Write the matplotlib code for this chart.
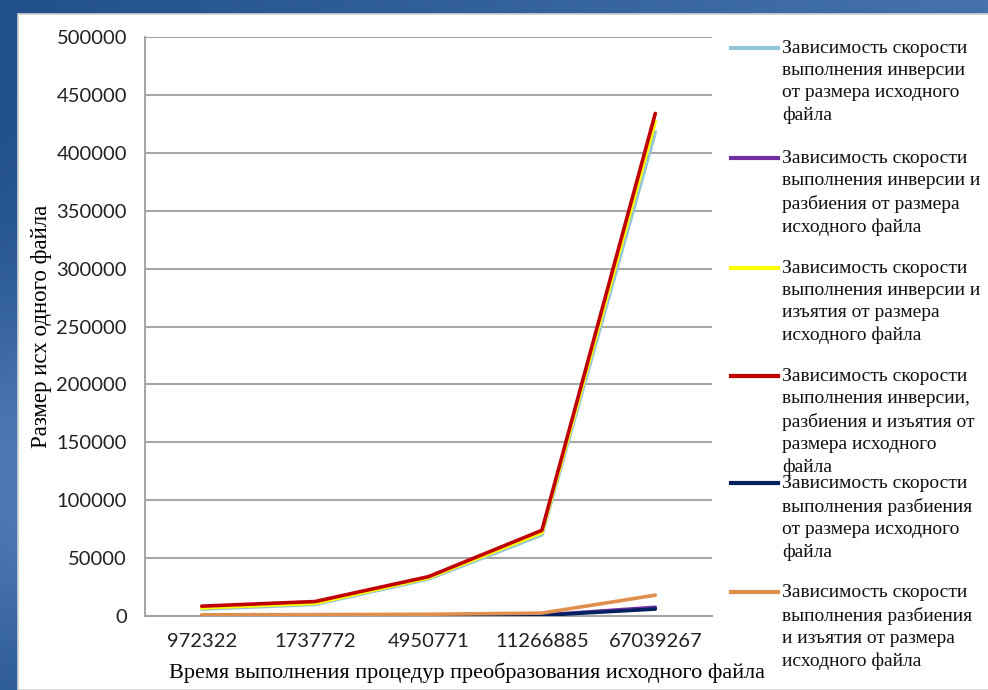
import numpy as np
import matplotlib
matplotlib.use("Agg")
import matplotlib.pyplot as plt
from matplotlib.colors import LinearSegmentedColormap
from matplotlib.patches import Rectangle
from matplotlib.lines import Line2D

categories = ["972322", "1737772", "4950771", "11266885", "67039267"]

inversion = [6000, 10000, 32000, 70000, 418000]
inversion_split = [300, 400, 500, 800, 7500]
inversion_extract = [7000, 11000, 33000, 72000, 427000]
inversion_split_extract = [8500, 12500, 34000, 74000, 434000]
split = [200, 300, 400, 600, 6000]
split_extract = [1000, 1200, 1500, 2500, 18000]

series = [inversion, inversion_split, inversion_extract,
          inversion_split_extract, split, split_extract]
colors = ["#92c5d6", "#7030a0", "#ffff00", "#c00000", "#002060", "#e0904e"]
labels = [
    "Зависимость скорости\nвыполнения инверсии\nот размера исходного\nфайла",
    "Зависимость скорости\nвыполнения инверсии и\nразбиения от размера\nисходного файла",
    "Зависимость скорости\nвыполнения инверсии и\nизъятия от размера\nисходного файла",
    "Зависимость скорости\nвыполнения инверсии,\nразбиения и изъятия от\nразмера исходного\nфайла",
    "Зависимость скорости\nвыполнения разбиения\nот размера исходного\nфайла",
    "Зависимость скорости\nвыполнения разбиения\nи изъятия от размера\nисходного файла",
]

W, H = 988, 690
fig = plt.figure(figsize=(W / 100, H / 100), dpi=100)

# blue screenshot background
bg = fig.add_axes([0, 0, 1, 1], zorder=-10)
yy, xx = np.mgrid[0:1:200j, 0:1:200j]
grad = 0.6 * np.exp(-((yy - 0.7) ** 2) / 0.08) + 0.5 * xx
cmap = LinearSegmentedColormap.from_list("bl", ["#22508c", "#6f9bd0"])
bg.imshow(grad, cmap=cmap, aspect="auto", extent=[0, 1, 0, 1])
bg.set_axis_off()

# white chart panel
fig.patches.append(Rectangle((18 / W, 0), 1, 1 - 14 / H, transform=fig.transFigure,
                             facecolor="white", edgecolor="#d0d0d0", lw=1.2, zorder=-5))

ax = fig.add_axes([145 / W, 1 - 616 / H, (712 - 145) / W, (616 - 37) / H])
x = np.arange(len(categories))
for s, c in zip(series, colors):
    ax.plot(x, s, color=c, lw=2.6, solid_capstyle="round", zorder=3)

ax.set_xlim(-0.5, len(categories) - 0.5)
ax.set_ylim(0, 500000)
ax.set_yticks(np.arange(0, 500001, 50000))
ax.set_xticks(x)
ax.set_xticklabels(categories)
ax.grid(axis="y", color="#a6a6a6", lw=1.5)
ax.set_axisbelow(True)
for sp in ["top", "right"]:
    ax.spines[sp].set_visible(False)
ax.spines["left"].set_color("#a6a6a6")
ax.spines["left"].set_linewidth(1.5)
ax.spines["bottom"].set_color("#a6a6a6")
ax.spines["bottom"].set_linewidth(1.5)
ax.tick_params(length=0, labelsize=14.5, colors="#222222")
ax.tick_params(axis="x", pad=12)
ax.tick_params(axis="y", pad=13)
for t in ax.get_xticklabels() + ax.get_yticklabels():
    t.set_fontfamily("Lato")

fig.text(467 / W, 1 - 673 / H, "Время выполнения процедур преобразования исходного файла",
         ha="center", va="center", fontsize=16, family="Liberation Serif")
fig.text(42 / W, 1 - 326 / H, "Размер исх одного файла", rotation=90,
         ha="center", va="center", fontsize=16.5, family="Liberation Serif")

# legend drawn by hand (Excel spacing, entries overlap)
first_line = [48, 158, 268, 376, 483, 592]
for lab, c, yl in zip(labels, colors, first_line):
    fy = 1 - yl / H
    fig.add_artist(Line2D([731 / W, 778 / W], [fy, fy], color=c, lw=3,
                          transform=fig.transFigure))
    fig.text(782 / W, fy + 8 / H, lab, ha="left", va="top", fontsize=14,
             family="Liberation Serif", linespacing=1.4, color="#111111")

fig.savefig("out.png", dpi=100)
